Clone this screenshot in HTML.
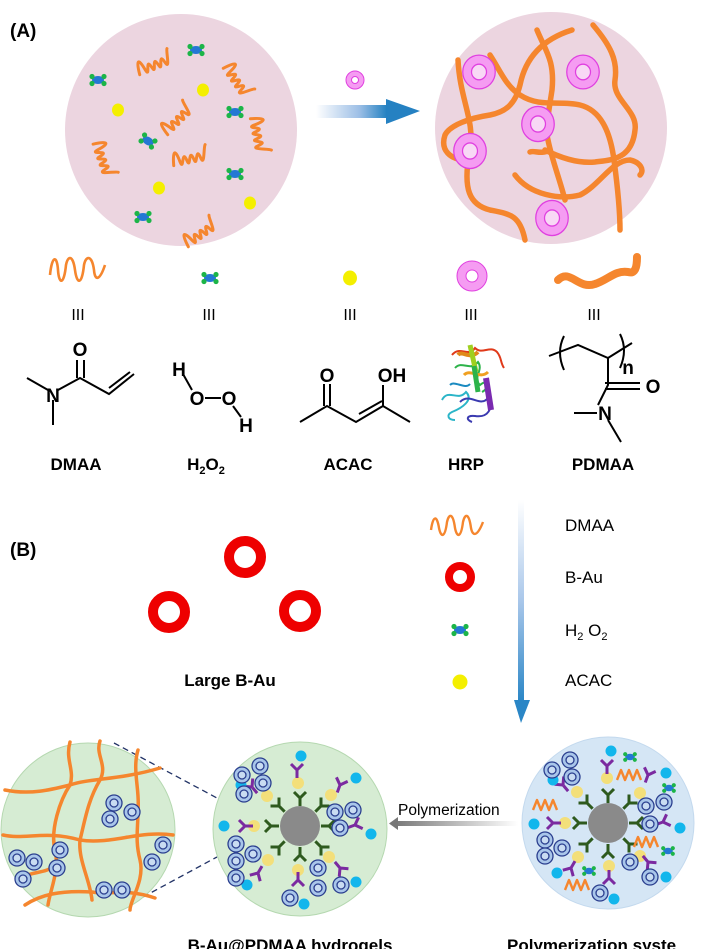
<!DOCTYPE html><html><head><meta charset="utf-8"><style>body{margin:0;background:#fff}svg{display:block}text{font-family:"Liberation Sans",Arial,sans-serif}</style></head><body>
<svg width="703" height="949" viewBox="0 0 703 949" xmlns="http://www.w3.org/2000/svg">
<defs>
<linearGradient id="ga" x1="0" x2="1"><stop offset="0" stop-color="#fff"/><stop offset="0.6" stop-color="#9dbfe6"/><stop offset="1" stop-color="#1f7fc0"/></linearGradient>
<linearGradient id="gv" x1="0" y1="0" x2="0" y2="1"><stop offset="0" stop-color="#fff"/><stop offset="0.5" stop-color="#a9c7ea"/><stop offset="1" stop-color="#2a86c6"/></linearGradient>
<linearGradient id="gp" x1="0" x2="1"><stop offset="0" stop-color="#777"/><stop offset="1" stop-color="#fff"/></linearGradient>
<g id="zig"><path d="M0,18 C2,2 5,2 7,16 C9,26 11,2 14,16 C16,26 18,2 21,16 C23,26 25,2 28,16 C30,26 33,6 35,4" fill="none" stroke="#f5862e" stroke-width="3" stroke-linejoin="round" stroke-linecap="round"/></g>
<g id="hp"><ellipse cx="0" cy="0" rx="6" ry="4" fill="#2478d4"/><circle cx="-6" cy="-3.5" r="2.6" fill="#1cb548"/><circle cx="6" cy="-3.5" r="2.6" fill="#1cb548"/><circle cx="-6" cy="3.5" r="2.6" fill="#1cb548"/><circle cx="6" cy="3.5" r="2.6" fill="#1cb548"/></g>
<g id="pr"><circle r="13" fill="#f59cf2" stroke="#e040e0" stroke-width="1"/><circle r="6" fill="#f8d8f5" stroke="#e040e0" stroke-width="1"/></g>
<g id="br"><circle r="8" fill="#a9c6ea" stroke="#2b3f8f" stroke-width="1.3"/><circle r="4" fill="#c9dcf2" stroke="#2b3f8f" stroke-width="1.3"/></g>
<g id="yg"><path d="M0,0 V8 M0,0 L-6,-6 M0,0 L6,-6" stroke="#2e5a1e" stroke-width="3" fill="none"/></g>
<g id="yp"><path d="M0,0 V8 M0,0 L-6,-6 M0,0 L6,-6" stroke="#7b2aa0" stroke-width="3" fill="none"/></g>
<g id="zs"><path d="M0,10 L4,0 L8,10 L12,0 L16,10 L20,0 L24,10" fill="none" stroke="#f5862e" stroke-width="2.4" stroke-linejoin="round"/></g>
</defs>

<text x="10" y="37" font-size="19" font-weight="bold">(A)</text>
<circle cx="181" cy="130" r="116" fill="#ecd5e0"/>
<use href="#zig" transform="translate(133,58) rotate(-22)"/>
<use href="#zig" transform="translate(238,58) rotate(55)"/>
<use href="#zig" transform="translate(155,122) rotate(-45)"/>
<use href="#zig" transform="translate(268,115) rotate(78)"/>
<use href="#zig" transform="translate(110,138) rotate(70)"/>
<use href="#zig" transform="translate(170,148) rotate(-12)"/>
<use href="#zig" transform="translate(178,232) rotate(-35)"/>
<use href="#hp" transform="translate(196,50)"/><use href="#hp" transform="translate(98,80)"/>
<use href="#hp" transform="translate(235,112)"/><use href="#hp" transform="translate(148,141) rotate(30)"/>
<use href="#hp" transform="translate(235,174)"/><use href="#hp" transform="translate(143,217)"/>
<ellipse cx="203" cy="90" rx="6" ry="6.5" fill="#f4ef00"/><ellipse cx="118" cy="110" rx="6" ry="6.5" fill="#f4ef00"/>
<ellipse cx="159" cy="188" rx="6" ry="6.5" fill="#f4ef00"/><ellipse cx="250" cy="203" rx="6" ry="6.5" fill="#f4ef00"/>

<rect x="316" y="105" width="72" height="13" fill="url(#ga)"/>
<path d="M386,99 L420,111 L386,124 Z" fill="#2581c2"/>
<circle cx="355" cy="80" r="9" fill="#f59cf2" stroke="#e040e0"/><circle cx="355" cy="80" r="3.5" fill="#fff" stroke="#e040e0"/>

<circle cx="551" cy="128" r="116" fill="#ecd5e0"/>
<g fill="none" stroke="#f5862e" stroke-width="5.5" stroke-linecap="round">
<path d="M490,55 C500,70 505,85 520,95 C540,108 560,100 580,105 C600,110 610,130 614,160 C618,190 620,215 620,230"/>
<path d="M537,30 C545,50 555,60 552,90 C549,110 545,130 548,140 C552,160 560,180 565,200"/>
<path d="M572,30 C540,40 525,60 520,85 C515,105 505,112 490,115 C470,118 450,125 445,135 C440,150 450,160 467,160"/>
<path d="M593,25 C610,45 618,60 615,80 C612,100 638,110 635,130 C632,160 610,160 595,162 C575,164 555,155 545,150"/>
<path d="M458,60 C460,100 475,120 470,150 C462,190 470,205 490,210 C510,214 520,215 525,240"/>
<path d="M515,175 C530,195 560,200 580,195 C600,185 612,160 630,160 C640,162 645,170 640,175"/>
<path d="M550,150 C540,155 535,150 530,152"/>
</g>
<use href="#pr" transform="translate(479,72) scale(1.25,1.3)"/>
<use href="#pr" transform="translate(583,72) scale(1.25,1.3)"/>
<use href="#pr" transform="translate(538,124) scale(1.25,1.35)"/>
<use href="#pr" transform="translate(470,151) scale(1.25,1.35)"/>
<use href="#pr" transform="translate(552,218) scale(1.25,1.35)"/>

<path d="M50,275 C52,255 57,255 58,270 C59,285 64,285 66,265 C68,255 73,255 75,270 C77,285 82,285 84,265 C86,255 92,255 94,270 C95,282 100,280 105,265" fill="none" stroke="#f5862e" stroke-width="2.6"/>
<use href="#hp" transform="translate(210,278)"/>
<ellipse cx="350" cy="278" rx="7" ry="7.5" fill="#f4ef00"/>
<circle cx="472" cy="276" r="15" fill="#f59cf2" stroke="#e040e0"/><circle cx="472" cy="276" r="6" fill="#fff" stroke="#e040e0"/>
<path d="M558,280 C570,268 578,290 595,284 C608,280 615,270 628,272 C635,274 637,268 637,257" fill="none" stroke="#f5862e" stroke-width="8" stroke-linecap="round"/>
<g font-size="16" text-anchor="middle"><text x="78" y="320">III</text><text x="209" y="320">III</text><text x="350" y="320">III</text><text x="471" y="320">III</text><text x="594" y="320">III</text></g>

<g stroke="#000" stroke-width="2" fill="none">
<path d="M27,378 L48,390 M53,400 L53,425 M58,390 L80,378 L109,394 L134,374 M109,388 L130,372 M77,378 V360 M84,378 V360"/>
<path d="M183,374 L192,390 M205,398 L221,398 M233,406 L241,417"/>
<path d="M300,422 L327,406 L356,422 L383,406 L410,422 M324,406 V384 M330,406 V384 M359,414 L382,401 M383,406 V385"/>
<path d="M549,356 L578,345 L608,358 L632,343 M564,336 Q556,352 564,370 M620,334 Q628,350 620,368 M608,358 V385 L598,405 M605,383 H640 M605,389 H640 M597,413 H574 M608,420 L621,442"/>
</g>
<g font-size="19" font-weight="bold">
<text x="80" y="356" text-anchor="middle">O</text><text x="53" y="402" text-anchor="middle">N</text>
<text x="179" y="376" text-anchor="middle">H</text><text x="197" y="405" text-anchor="middle">O</text><text x="229" y="405" text-anchor="middle">O</text><text x="246" y="432" text-anchor="middle">H</text>
<text x="327" y="382" text-anchor="middle">O</text><text x="392" y="382" text-anchor="middle">OH</text>
<text x="653" y="393" text-anchor="middle">O</text><text x="605" y="420" text-anchor="middle">N</text><text x="628" y="374" text-anchor="middle">n</text>
</g>
<g fill="none" stroke-width="2">
<path d="M452,355 C460,345 468,358 475,348 C482,355 490,345 497,352 C502,358 500,362 504,368" stroke="#e03a1a"/>
<path d="M455,368 C462,360 470,372 478,362 C484,370 472,378 480,385 C488,378 490,388 482,392" stroke="#2db34a"/>
<path d="M464,375 C470,368 480,380 488,372" stroke="#f0a020" stroke-width="3"/>
<path d="M442,400 C448,388 458,402 466,392 C474,400 462,408 452,412 C446,415 448,420 455,420" stroke="#2bb5c8"/>
<path d="M460,402 C470,392 480,408 488,398 C494,408 488,418 475,416 C466,415 466,420 472,422" stroke="#3a3ab0"/>
<path d="M486,378 L491,410" stroke="#7a2ab0" stroke-width="6"/>
<path d="M458,355 C462,350 470,360 478,352" stroke="#e08a1a" stroke-width="4"/>
<path d="M470,345 L476,372" stroke="#9fd020" stroke-width="5"/>
<path d="M474,366 L478,392" stroke="#2db34a" stroke-width="5"/>
<path d="M450,385 C455,380 465,390 470,384" stroke="#1a8ac0"/>
</g>
<g font-size="17" font-weight="bold" text-anchor="middle">
<text x="76" y="470">DMAA</text><text x="206" y="470">H<tspan font-size="11" dy="4">2</tspan><tspan dy="-4">O</tspan><tspan font-size="11" dy="4">2</tspan></text><text x="348" y="470">ACAC</text><text x="466" y="470">HRP</text><text x="603" y="470">PDMAA</text>
</g>

<text x="10" y="556" font-size="19" font-weight="bold">(B)</text>
<g fill="none" stroke="#ee0000" stroke-width="10">
<circle cx="245" cy="557" r="16"/><circle cx="169" cy="612" r="16"/><circle cx="300" cy="611" r="16"/>
</g>
<text x="230" y="686" font-size="17" font-weight="bold" text-anchor="middle">Large B-Au</text>
<path d="M431,530 C433,515 437,515 439,528 C441,538 445,538 447,522 C449,513 453,513 455,528 C457,538 461,538 463,522 C465,513 469,513 471,528 C473,538 478,535 483,522" fill="none" stroke="#f5862e" stroke-width="2.4"/>
<circle cx="460" cy="577" r="11" fill="none" stroke="#ee0000" stroke-width="8"/>
<use href="#hp" transform="translate(460,630)"/>
<circle cx="460" cy="682" r="7.5" fill="#f4ef00"/>
<rect x="518" y="500" width="6" height="202" fill="url(#gv)"/>
<path d="M514,700 L530,700 L521,723 Z" fill="#2a86c6"/>
<g font-size="17"><text x="565" y="531">DMAA</text><text x="565" y="583">B-Au</text><text x="565" y="636">H<tspan font-size="11" dy="4">2</tspan><tspan dy="-4"> O</tspan><tspan font-size="11" dy="4">2</tspan></text><text x="565" y="686">ACAC</text></g>

<path d="M114,743 L217,798 M143,897 L217,857" stroke="#223366" stroke-width="1.3" stroke-dasharray="6,4"/>
<circle cx="88" cy="830" r="87" fill="#d6ecd3" stroke="#b5d8b0"/>
<g fill="none" stroke="#f5862e" stroke-width="3.5" stroke-linecap="round">
<path d="M70,742 C65,760 75,770 70,785 C60,800 50,830 55,850 C60,870 50,890 48,905"/>
<path d="M100,741 C95,755 108,765 100,780 C88,800 85,820 80,840 C78,860 90,880 92,900"/>
<path d="M138,750 C132,770 140,790 138,810 C138,830 135,840 140,860 C145,880 130,900 130,910"/>
<path d="M5,790 C30,795 50,790 70,785 C90,778 120,780 160,768"/>
<path d="M3,835 C25,840 45,830 80,840 C110,845 140,830 173,835"/>
<path d="M25,905 C40,895 60,890 92,892 C110,895 125,888 155,898"/>
<path d="M20,880 C30,870 45,875 55,865"/>
</g>
<use href="#br" transform="translate(17,858)"/><use href="#br" transform="translate(34,862)"/><use href="#br" transform="translate(23,879)"/>
<use href="#br" transform="translate(114,803)"/><use href="#br" transform="translate(132,812)"/><use href="#br" transform="translate(110,819)"/>
<use href="#br" transform="translate(60,850)"/><use href="#br" transform="translate(57,868)"/>
<use href="#br" transform="translate(163,845)"/><use href="#br" transform="translate(152,862)"/>
<use href="#br" transform="translate(104,890)"/><use href="#br" transform="translate(122,890)"/>

<circle cx="300" cy="829" r="87" fill="#d6ecd3" stroke="#b5d8b0"/>
<circle cx="300" cy="826" r="20" fill="#8a8a8a"/>
<g id="core">
<use href="#yg" transform="translate(300,798) rotate(0)"/>
<use href="#yg" transform="translate(321,806) rotate(45)"/>
<use href="#yg" transform="translate(329,826) rotate(90)"/>
<use href="#yg" transform="translate(321,847) rotate(135)"/>
<use href="#yg" transform="translate(300,855) rotate(180)"/>
<use href="#yg" transform="translate(279,847) rotate(225)"/>
<use href="#yg" transform="translate(271,826) rotate(270)"/>
<use href="#yg" transform="translate(279,806) rotate(315)"/>
</g>
<g fill="#f3df7a"><circle cx="298" cy="783" r="6"/><circle cx="331" cy="795" r="6"/><circle cx="341" cy="830" r="6"/><circle cx="329" cy="857" r="6"/><circle cx="298" cy="870" r="6"/><circle cx="268" cy="860" r="6"/><circle cx="254" cy="826" r="6"/><circle cx="267" cy="796" r="6"/></g>
<use href="#yp" transform="translate(297,770)"/><use href="#yp" transform="translate(340,785) rotate(20)"/><use href="#yp" transform="translate(355,825) rotate(70)"/><use href="#yp" transform="translate(340,868) rotate(140)"/><use href="#yp" transform="translate(298,880) rotate(180)"/><use href="#yp" transform="translate(258,873) rotate(210)"/><use href="#yp" transform="translate(245,826) rotate(270)"/><use href="#yp" transform="translate(252,787) rotate(320)"/>
<g fill="#12b6ec"><circle cx="301" cy="756" r="5.5"/><circle cx="356" cy="778" r="5.5"/><circle cx="371" cy="834" r="5.5"/><circle cx="356" cy="882" r="5.5"/><circle cx="304" cy="904" r="5.5"/><circle cx="247" cy="885" r="5.5"/><circle cx="224" cy="826" r="5.5"/><circle cx="241" cy="785" r="5.5"/></g>
<use href="#br" transform="translate(242,775)"/><use href="#br" transform="translate(260,766)"/><use href="#br" transform="translate(263,783)"/><use href="#br" transform="translate(244,794)"/>
<use href="#br" transform="translate(335,812)"/><use href="#br" transform="translate(353,810)"/><use href="#br" transform="translate(340,828)"/>
<use href="#br" transform="translate(236,844)"/><use href="#br" transform="translate(253,854)"/><use href="#br" transform="translate(236,861)"/><use href="#br" transform="translate(236,878)"/>
<use href="#br" transform="translate(318,868)"/><use href="#br" transform="translate(318,888)"/><use href="#br" transform="translate(341,885)"/><use href="#br" transform="translate(290,898)"/>

<rect x="394" y="821" width="124" height="5" fill="url(#gp)"/>
<path d="M398,817 L389,823.5 L398,830 Z" fill="#777"/>
<text x="398" y="815" font-size="15.5">Polymerization</text>

<circle cx="608" cy="823" r="86" fill="#d5e6f5" stroke="#c3d9ee"/>
<circle cx="608" cy="823" r="20" fill="#8a8a8a"/>
<use href="#core" transform="translate(308,-3)"/>
<g fill="#f3df7a"><circle cx="607" cy="778" r="6"/><circle cx="640" cy="793" r="6"/><circle cx="650" cy="826" r="6"/><circle cx="640" cy="856" r="6"/><circle cx="609" cy="866" r="6"/><circle cx="578" cy="857" r="6"/><circle cx="565" cy="823" r="6"/><circle cx="577" cy="792" r="6"/></g>
<use href="#yp" transform="translate(607,766)"/><use href="#yp" transform="translate(648,775) rotate(20)"/><use href="#yp" transform="translate(663,822) rotate(70)"/><use href="#yp" transform="translate(648,862) rotate(140)"/><use href="#yp" transform="translate(609,878) rotate(180)"/><use href="#yp" transform="translate(571,868) rotate(210)"/><use href="#yp" transform="translate(553,823) rotate(270)"/><use href="#yp" transform="translate(563,785) rotate(320)"/>
<g fill="#12b6ec"><circle cx="611" cy="751" r="5.5"/><circle cx="666" cy="773" r="5.5"/><circle cx="680" cy="828" r="5.5"/><circle cx="666" cy="877" r="5.5"/><circle cx="614" cy="899" r="5.5"/><circle cx="557" cy="873" r="5.5"/><circle cx="534" cy="824" r="5.5"/><circle cx="553" cy="780" r="5.5"/></g>
<use href="#br" transform="translate(570,760)"/><use href="#br" transform="translate(552,770)"/><use href="#br" transform="translate(572,777)"/>
<use href="#br" transform="translate(646,806)"/><use href="#br" transform="translate(664,802)"/><use href="#br" transform="translate(650,824)"/>
<use href="#br" transform="translate(545,840)"/><use href="#br" transform="translate(562,848)"/><use href="#br" transform="translate(545,856)"/>
<use href="#br" transform="translate(630,862)"/><use href="#br" transform="translate(650,877)"/><use href="#br" transform="translate(600,893)"/>
<use href="#zs" transform="translate(617,770)"/><use href="#zs" transform="translate(533,800)"/><use href="#zs" transform="translate(634,837)"/><use href="#zs" transform="translate(565,880)"/>
<use href="#hp" transform="translate(630,757) scale(0.8)"/><use href="#hp" transform="translate(669,788) scale(0.8)"/><use href="#hp" transform="translate(668,851) scale(0.8)"/><use href="#hp" transform="translate(589,871) scale(0.8)"/>

<g font-size="17" font-weight="bold"><text x="290" y="951" text-anchor="middle">B-Au@PDMAA hydrogels</text><text x="507" y="951">Polymerization syste</text></g>
</svg>
</body></html>
